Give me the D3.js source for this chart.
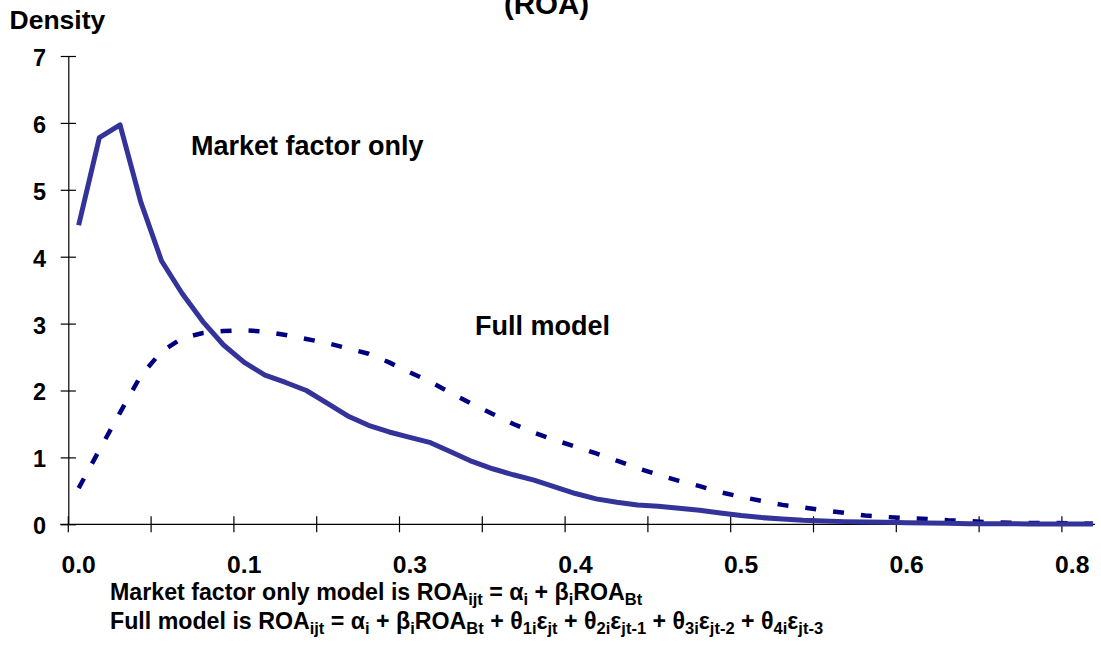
<!DOCTYPE html>
<html>
<head>
<meta charset="utf-8">
<script src="https://cdn.jsdelivr.net/npm/d3@7"></script>
<style>
  html, body { margin: 0; padding: 0; background: #fff; }
  svg { display: block; font-family: "Liberation Sans", Arial, sans-serif; font-weight: bold; }
</style>
</head>
<body>
<svg id="chart" width="1101" height="645"></svg>
<script>
// ---- data ----
const categories = [0.004, 0.020, 0.036, 0.052, 0.068, 0.084, 0.100, 0.116, 0.132, 0.148,
  0.164, 0.180, 0.196, 0.212, 0.228, 0.244, 0.260, 0.276, 0.292, 0.308,
  0.324, 0.340, 0.356, 0.372, 0.388, 0.404, 0.420, 0.436, 0.452, 0.468,
  0.484, 0.500, 0.516, 0.532, 0.548, 0.564, 0.580, 0.596, 0.612, 0.628,
  0.644, 0.660, 0.676, 0.692, 0.708, 0.724, 0.740, 0.756, 0.772, 0.788];

const marketOnly = [4.47, 5.78, 5.97, 4.82, 3.94, 3.45, 3.03, 2.68, 2.42, 2.23,
  2.12, 2.00, 1.81, 1.62, 1.48, 1.38, 1.30, 1.22, 1.08, 0.94,
  0.83, 0.74, 0.66, 0.56, 0.46, 0.38, 0.33, 0.29, 0.27, 0.24,
  0.21, 0.17, 0.13, 0.10, 0.08, 0.06, 0.05, 0.04, 0.035, 0.03,
  0.025, 0.02, 0.015, 0.01, 0.01, 0.01, 0.005, 0.005, 0.005, 0.005];

const fullModel = [0.54, 1.11, 1.67, 2.22, 2.58, 2.78, 2.86, 2.89, 2.90, 2.88,
  2.83, 2.77, 2.71, 2.63, 2.55, 2.42, 2.27, 2.13, 1.96, 1.80,
  1.65, 1.50, 1.37, 1.26, 1.16, 1.06, 0.95, 0.84, 0.74, 0.65,
  0.57, 0.48, 0.41, 0.35, 0.29, 0.25, 0.21, 0.17, 0.13, 0.11,
  0.09, 0.08, 0.06, 0.05, 0.03, 0.025, 0.02, 0.02, 0.015, 0.01];

const yTicks = [0, 1, 2, 3, 4, 5, 6, 7];
const tickEvery = 4;    // tick mark every 4 categories
const labelEvery = 8;   // label every 8 categories

const yTitle = "Density";
const chartTitle = "(ROA)";
const seriesLabels = ["Market factor only", "Full model"];

// ---- layout ----
const svg = d3.select("#chart");
const plotLeft = 68.3, axisY = 524.3, plotTop = 56, axisEnd = 1095;
const step = 20.7;

const x = d3.scaleBand()
  .domain(categories)
  .range([plotLeft, plotLeft + categories.length * step])
  .paddingInner(0).paddingOuter(0);
const cx = d => x(d) + x.bandwidth() / 2;

const y = d3.scaleLinear().domain([0, 7]).range([axisY, plotTop]);

// title (mostly cropped at top edge, as in the reference)
svg.append("text")
  .attr("x", 546.5).attr("y", 13.5)
  .attr("text-anchor", "middle")
  .attr("font-size", 29.5)
  .text(chartTitle);

// y title
svg.append("text")
  .attr("x", 9.5).attr("y", 29)
  .attr("font-size", 26.5)
  .text(yTitle);

// y axis
const yAxis = svg.append("g")
  .attr("transform", `translate(${plotLeft},0)`)
  .call(d3.axisLeft(y).tickValues(yTicks).tickFormat(d3.format("d"))
        .tickSizeInner(7.6).tickSizeOuter(0).tickPadding(14.7));
yAxis.select(".domain").attr("stroke", "#000").attr("stroke-width", 1.2);
yAxis.selectAll(".tick line").attr("x1", -7.6).attr("x2", 7.6).attr("stroke", "#000").attr("stroke-width", 1.2);
yAxis.selectAll(".tick text")
  .attr("font-family", "Liberation Sans, Arial, sans-serif")
  .attr("font-weight", "bold")
  .attr("font-size", 23.5).attr("fill", "#000").attr("dy", "0.4em");

// x axis: tick marks at category boundaries
const tickCats = categories.filter((d, i) => i % tickEvery === 0);
const xTickAxis = svg.append("g")
  .attr("transform", `translate(${-x.bandwidth() / 2},${axisY})`)
  .call(d3.axisBottom(x).tickValues(tickCats).tickFormat("").tickSizeInner(8).tickSizeOuter(0));
xTickAxis.select(".domain").remove();
xTickAxis.selectAll(".tick line").attr("y1", -8).attr("y2", 8).attr("stroke", "#000").attr("stroke-width", 1.2);

// x axis line
svg.append("line")
  .attr("x1", plotLeft - 8).attr("x2", axisEnd)
  .attr("y1", axisY).attr("y2", axisY)
  .attr("stroke", "#000").attr("stroke-width", 1.2);

// x labels
const labelCats = categories.filter((d, i) => i % labelEvery === 0);
const xLabAxis = svg.append("g")
  .attr("transform", `translate(0,${axisY})`)
  .call(d3.axisBottom(x).tickValues(labelCats).tickFormat(d3.format(".1f")).tickSize(0).tickPadding(0));
xLabAxis.select(".domain").remove();
xLabAxis.selectAll(".tick text")
  .attr("font-family", "Liberation Sans, Arial, sans-serif")
  .attr("font-weight", "bold")
  .attr("font-size", 24.7).attr("fill", "#000")
  .attr("dy", null).attr("y", 48.4);

// lines
const lineGen = vals => d3.line()
  .x((d, i) => cx(categories[i]))
  .y(d => y(d))(vals);

svg.append("path")
  .attr("d", lineGen(fullModel))
  .attr("fill", "none")
  .attr("stroke", "#000080")
  .attr("stroke-width", 4.5)
  .attr("stroke-dasharray", "11,17");

svg.append("path")
  .attr("d", lineGen(marketOnly))
  .attr("fill", "none")
  .attr("stroke", "#333399")
  .attr("stroke-width", 5)
  .attr("stroke-linejoin", "round");

// series labels
svg.append("text").attr("x", 191).attr("y", 155).attr("font-size", 27).text(seriesLabels[0]);
svg.append("text").attr("x", 475).attr("y", 335).attr("font-size", 27).text(seriesLabels[1]);

// footnotes with subscripts
const footnotes = [
  [["Market factor only model is ROA", 0], ["ijt", 1], [" = α", 0], ["i", 1], [" + β", 0], ["i", 1], ["ROA", 0], ["Bt", 1]],
  [["Full model is ROA", 0], ["ijt", 1], [" = α", 0], ["i", 1], [" + β", 0], ["i", 1], ["ROA", 0], ["Bt", 1],
   [" + θ", 0], ["1i", 1], ["ε", 0], ["jt", 1], [" + θ", 0], ["2i", 1], ["ε", 0], ["jt-1", 1],
   [" + θ", 0], ["3i", 1], ["ε", 0], ["jt-2", 1], [" + θ", 0], ["4i", 1], ["ε", 0], ["jt-3", 1]]
];
const footY = [600, 629];
footnotes.forEach((parts, li) => {
  const t = svg.append("text").attr("x", 110).attr("y", footY[li]).attr("font-size", 23.2);
  let sub = false;
  parts.forEach(([s, isSub]) => {
    const ts = t.append("tspan").text(s);
    if (isSub && !sub) { ts.attr("dy", 5).attr("font-size", 16.5); sub = true; }
    else if (isSub) { ts.attr("font-size", 16.5); }
    else if (!isSub && sub) { ts.attr("dy", -5); sub = false; }
  });
});
</script>
</body>
</html>
